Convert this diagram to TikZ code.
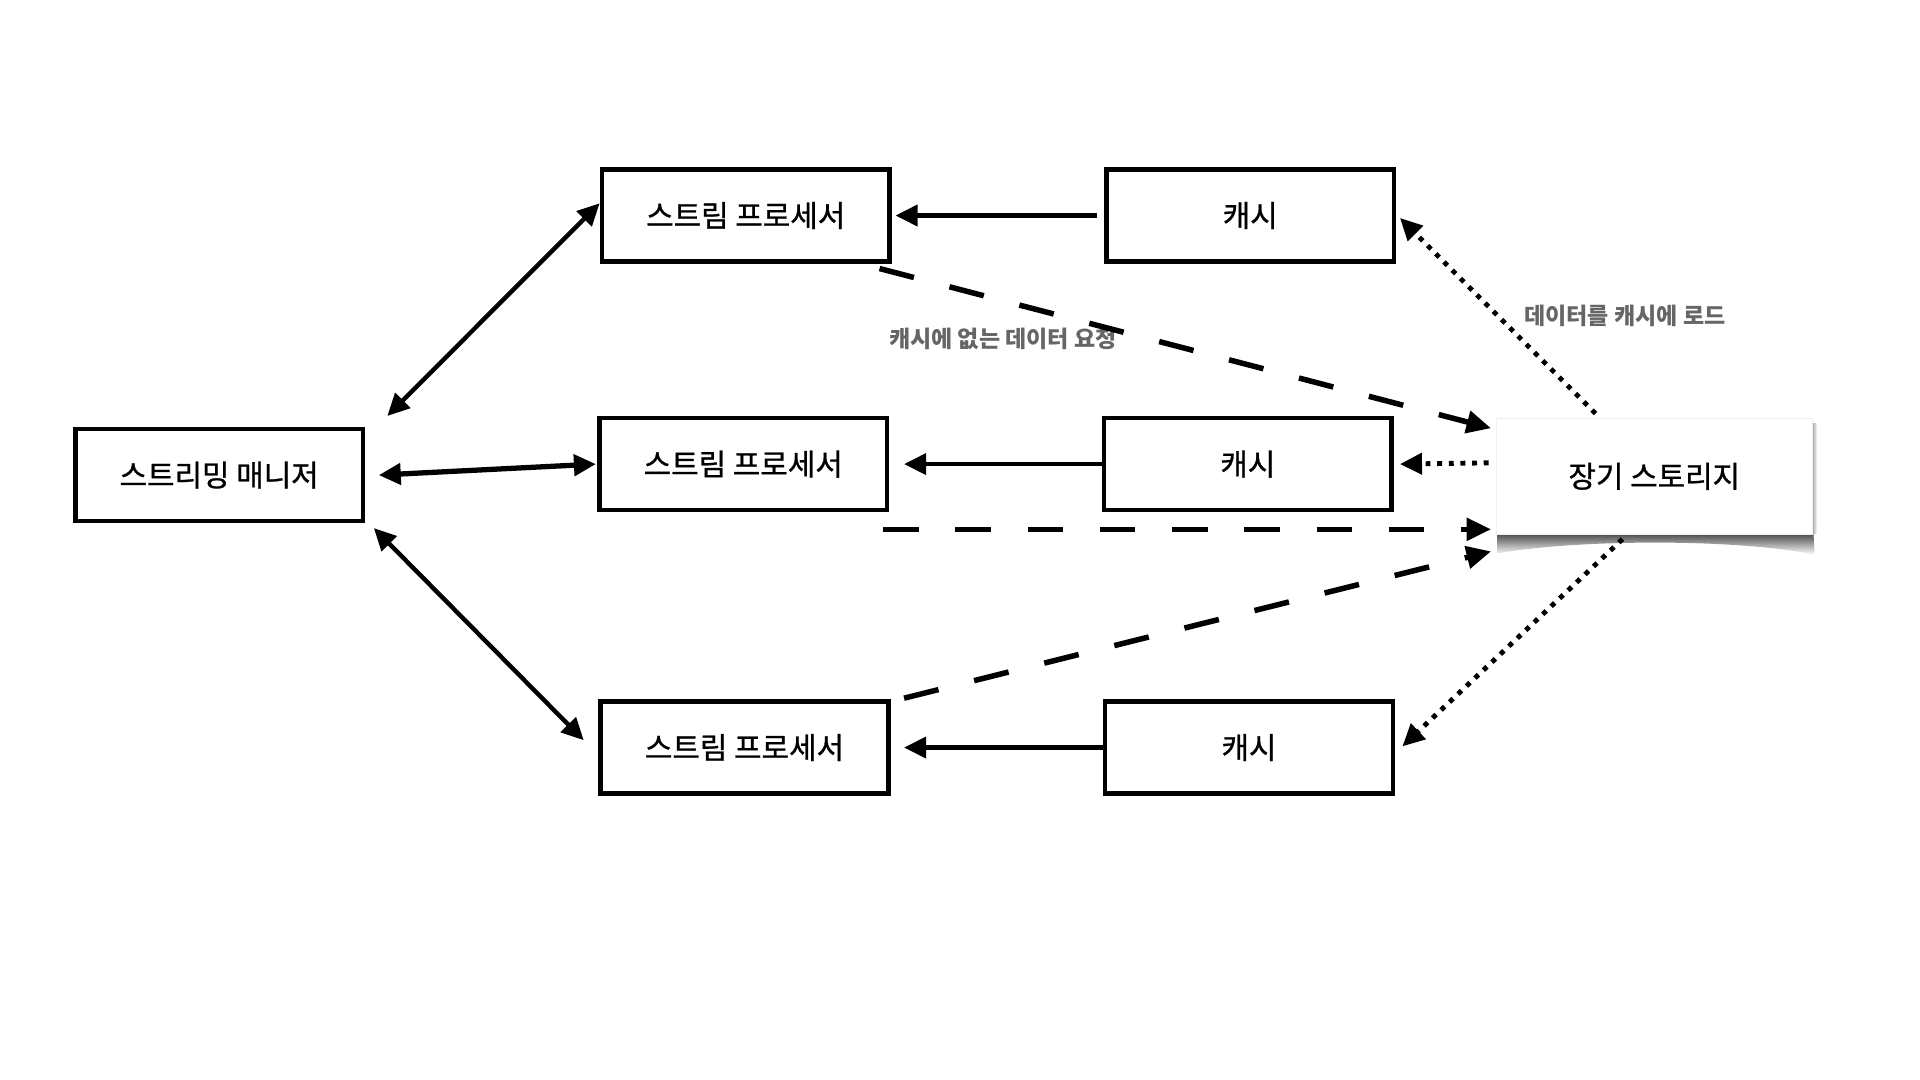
\documentclass[tikz,border=0pt]{standalone}
\usepackage{fontspec}
\newfontfamily\kr{Noto Sans CJK KR}
\newfontfamily\krm{Noto Sans CJK KR}[FakeBold=0.9]
\usetikzlibrary{arrows.meta,calc}
\definecolor{labelgray}{HTML}{666666}
\begin{document}
\begin{tikzpicture}[x=1pt,y=-1pt,
  box/.style={draw=black, line width=3.6pt, minimum width=235pt, minimum height=75pt,
    inner sep=0pt, fill=white, font=\krm\fontsize{24.4}{28}\selectfont},
  storebox/.style={draw=black!6, line width=0.6pt, minimum width=258pt, minimum height=94pt,
    inner sep=0pt, fill=white, font=\krm\fontsize{24.4}{28}\selectfont},
  lbl/.style={text=labelgray, font=\kr\bfseries\fontsize{18.8}{22}\selectfont, inner sep=0pt},
  conn/.style={line width=3.6pt, -{Triangle[length=18pt,width=17pt]}},
  biconn/.style={line width=3.6pt, {Triangle[length=18pt,width=17pt]}-{Triangle[length=18pt,width=17pt]}},
  dasharrow/.style={line width=4.5pt, dash pattern=on 29pt off 30pt, -{Triangle[length=20pt,width=18pt]}},
  dotarrow/.style={line width=4pt, dash pattern=on 4pt off 5.5pt, -{Triangle[length=18pt,width=17pt]}}
]
\useasboundingbox (0,0) rectangle (1568,882);
\fill[white] (0,0) rectangle (1568,882);

% nodes
\node[box] (M) at (179,388) {스트리밍 매니저};
\node[box] (SP1) at (609,176) {스트림 프로세서};
\node[box] (SP2) at (607,379) {스트림 프로세서};
\node[box] (SP3) at (608,610.5) {스트림 프로세서};
\node[box] (C1) at (1021,176) {캐시};
\node[box] (C2) at (1019,379) {캐시};
\node[box] (C3) at (1020,610.5) {캐시};

% storage shadow
\shade[top color=black!70, bottom color=white]
  (1223,436) -- (1481,436) -- (1482,453)
  .. controls (1420,440) and (1290,440) .. (1223,452) -- cycle;
\shade[left color=black!35, right color=white] (1480,346) rectangle (1484,436);
\node[storebox] (S) at (1351,389) {장기 스토리지};

% labels
\node[lbl] (L1) at (819,277) {캐시에 없는 데이터 요청};
\node[lbl] (L2) at (1327,258) {데이터를 캐시에 로드};

% manager <-> processors
\draw[biconn] ([xshift=18pt,yshift=9pt]M.north east) -- ([yshift=10pt]SP1.west);
\draw[biconn, line width=4.3pt] ([xshift=11pt]M.east) -- ([xshift=-1pt]SP2.west);
\draw[biconn] ([xshift=7pt,yshift=-4pt]M.south east) -- ([xshift=-12pt,yshift=6pt]SP3.west);

% cache -> processors
\draw[conn] ([xshift=-6pt]C1.west) -- ([xshift=3pt]SP1.east);
\draw[conn] ([xshift=2pt]C2.west) -- ([xshift=12pt]SP2.east);
\draw[conn] ([xshift=3pt]C3.west) -- ([xshift=11pt]SP3.east);

% processors -> storage (dashed)
\draw[dasharrow] ([xshift=-10pt,yshift=-4pt]SP1.south east) -- ([xshift=-4pt,yshift=-8pt]S.north west);
\draw[dasharrow] ([xshift=-5pt,yshift=-14pt]SP2.south east) -- ([xshift=-4pt,yshift=4pt]S.south west);
\draw[dasharrow] ([xshift=11pt,yshift=1pt]SP3.north east) -- ([xshift=-4pt,yshift=-14pt]S.south west);

% storage -> caches (dotted)
\draw[dotarrow] ([xshift=-48pt,yshift=4pt]S.north) -- ([xshift=3pt,yshift=-2pt]C1.east);
\draw[dotarrow] ([xshift=-6pt,yshift=11pt]S.west) -- ([xshift=5pt]C2.east);
\draw[dotarrow] ([xshift=-26pt,yshift=-4pt]S.south) -- ([xshift=6pt,yshift=1pt]C3.east);
\end{tikzpicture}
\end{document}
